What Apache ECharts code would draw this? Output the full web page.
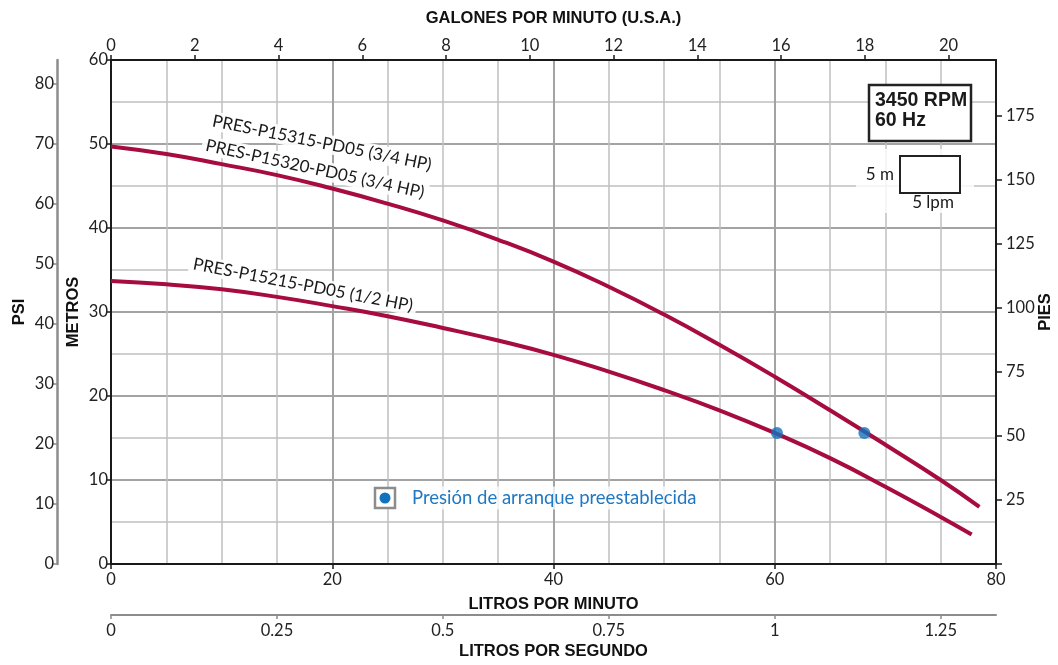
<!DOCTYPE html>
<html>
<head>
<meta charset="utf-8">
<script src="https://cdn.jsdelivr.net/npm/echarts@6/dist/echarts.min.js"></script>
<style>
html,body{margin:0;padding:0;background:#fff;}
#c{width:1058px;height:665px;}
</style>
</head>
<body>
<div id="c"></div>
<script>
// ---- data (flow in litros por minuto, head in metros) ----
const curve34HP = [[0,49.7],[5,48.8],[10,47.6],[15,46.3],[20,44.7],[25,42.9],[30,40.9],[35,38.6],[40,36.0],[45,33.0],[50,29.7],[55,26.1],[60,22.3],[65,18.3],[70,14.2],[75,10.0],[78.5,6.8]];
const curve12HP = [[0,33.7],[5,33.3],[10,32.7],[15,31.8],[20,30.7],[25,29.5],[30,28.1],[35,26.6],[40,24.9],[45,22.9],[50,20.7],[55,18.3],[60,15.6],[65,12.6],[70,9.2],[75,5.6],[77.8,3.5]];
const presetPoints = [[60.2,15.6],[68.1,15.6]];
const curveLabels = ['PRES-P15315-PD05 (3/4 HP)','PRES-P15320-PD05 (3/4 HP)','PRES-P15215-PD05 (1/2 HP)'];
const legendText = 'Presión de arranque preestablecida';
const infoText = ['3450 RPM','60 Hz'];
const LPM_MAX = 80, M_MAX = 60, PSI_MAX = 84;
const GPM_MAX = LPM_MAX / 3.785411784;
const LPS_MAX = LPM_MAX / 60;
const FT_MAX = M_MAX * 3.28084;

const chart = echarts.init(document.getElementById('c'));
const tickFont = {fontFamily:'Lato', fontSize:16.5, color:'#222'};
const nameFont = {fontFamily:"'Liberation Sans Narrow','Arial Narrow','Liberation Sans',sans-serif", fontWeight:'bold', fontSize:16.5, color:'#111'};
const black = {color:'#1a1a1a', width:2};
const gray = {color:'#8c8c8c', width:2.5};
const major = {color:'#a3a3a3', width:2};
const minor = {color:'#c0c0c0', width:1.5};
const lbl = (t,x,y,rot)=>({type:'text',x:x,y:y,rotation:rot,z:10,
  style:{text:t,font:'17px Lato',fill:'#1a1a1a',textAlign:'center',textVerticalAlign:'middle',align:'center',verticalAlign:'middle',backgroundColor:'rgba(255,255,255,0.9)',padding:[1,4]}});

const option = {
  animation:false,
  backgroundColor:'#fff',
  grid:{left:111,right:62,top:60,bottom:101,show:false,containLabel:false,outerBoundsMode:'none'},
  xAxis:[
    {type:'value',position:'bottom',min:0,max:LPM_MAX,interval:20,
     name:'LITROS POR MINUTO',nameLocation:'middle',nameGap:32,nameMoveOverlap:false,nameTextStyle:nameFont,
     axisLine:{show:true,onZero:false,lineStyle:black},axisTick:{show:true,length:5,lineStyle:{color:'#1a1a1a',width:1.5}},
     axisLabel:Object.assign({margin:7},tickFont),
     splitLine:{show:true,lineStyle:major},
     minorTick:{show:false,splitNumber:4},minorSplitLine:{show:true,lineStyle:minor}},
    {type:'value',position:'top',min:0,max:GPM_MAX,interval:2,
     name:'GALONES POR MINUTO (U.S.A.)',nameLocation:'middle',nameGap:33,nameMoveOverlap:false,nameTextStyle:nameFont,
     axisLine:{show:true,onZero:false,lineStyle:black},axisTick:{show:true,length:5,lineStyle:{color:'#1a1a1a',width:1.5}},
     axisLabel:Object.assign({margin:6,showMaxLabel:false},tickFont),splitLine:{show:false}},
    {type:'value',position:'bottom',offset:51,min:0,max:LPS_MAX,interval:0.25,
     name:'LITROS POR SEGUNDO',nameLocation:'middle',nameGap:28,nameMoveOverlap:false,nameTextStyle:nameFont,
     axisLine:{show:true,onZero:false,lineStyle:{color:'#8c8c8c',width:2}},axisTick:{show:true,length:4,lineStyle:{color:'#8c8c8c',width:1.5}},
     axisLabel:Object.assign({margin:7,showMaxLabel:false},tickFont),splitLine:{show:false}}
  ],
  yAxis:[
    {type:'value',position:'left',min:0,max:M_MAX,interval:10,
     name:'METROS',nameLocation:'middle',nameGap:29,nameMoveOverlap:false,nameTextStyle:nameFont,
     axisLine:{show:true,onZero:false,lineStyle:black},axisTick:{show:true,length:5,lineStyle:{color:'#1a1a1a',width:1.5}},
     axisLabel:Object.assign({margin:3},tickFont),
     splitLine:{show:true,lineStyle:major},
     minorTick:{show:false,splitNumber:2},minorSplitLine:{show:true,lineStyle:minor}},
    {type:'value',position:'left',offset:54,min:0,max:PSI_MAX,interval:10,
     name:'PSI',nameLocation:'middle',nameGap:29,nameMoveOverlap:false,nameTextStyle:nameFont,
     axisLine:{show:true,onZero:false,lineStyle:gray},axisTick:{show:true,length:5,lineStyle:{color:'#8c8c8c',width:1.5}},
     axisLabel:Object.assign({margin:3,showMaxLabel:false},tickFont),splitLine:{show:false}},
    {type:'value',position:'right',min:0,max:FT_MAX,interval:25,
     name:'PIES',nameLocation:'middle',nameGap:41,nameMoveOverlap:false,nameTextStyle:nameFont,
     axisLine:{show:true,onZero:false,lineStyle:black},axisTick:{show:true,length:6,lineStyle:{color:'#1a1a1a',width:1.5}},
     axisLabel:Object.assign({margin:10,showMaxLabel:false,formatter:v=>v===0?'':String(v)},tickFont),splitLine:{show:false}}
  ],
  series:[
    {type:'line',xAxisIndex:0,yAxisIndex:0,data:curve34HP,smooth:0.5,showSymbol:false,
     lineStyle:{color:'#a60c3e',width:4},z:3},
    {type:'line',xAxisIndex:0,yAxisIndex:0,data:curve12HP,smooth:0.5,showSymbol:false,
     lineStyle:{color:'#a60c3e',width:4},z:3},
    {type:'scatter',xAxisIndex:0,yAxisIndex:0,data:presetPoints,symbol:'circle',symbolSize:12,
     itemStyle:{color:'#1172bd'},z:5}
  ],
  graphic:[
    lbl(curveLabels[0],322,143,-0.2),
    lbl(curveLabels[1],315,169,-0.215),
    lbl(curveLabels[2],303,285,-0.19),
    // legend
    {type:'rect',shape:{x:375,y:488,width:20,height:20},z:10,style:{fill:'#fff',stroke:'#8c8c8c',lineWidth:2.5}},
    {type:'circle',shape:{cx:385,cy:498,r:5.5},z:11,style:{fill:'#1172bd'}},
    {type:'text',x:410,y:498,z:10,
     style:{text:legendText,font:'18.5px Lato',fill:'#1f78c1',textAlign:'left',textVerticalAlign:'middle',align:'left',verticalAlign:'middle',backgroundColor:'rgba(255,255,255,0.75)',padding:[2,2]}},
    // info box
    {type:'rect',shape:{x:869,y:85,width:102,height:56},z:10,style:{fill:'#fff',stroke:'#222',lineWidth:2.5}},
    {type:'text',x:875,y:101,z:11,style:{text:infoText[0],font:'bold 19.5px "Liberation Sans"',fill:'#1a1a1a',textAlign:'left',textVerticalAlign:'middle',align:'left',verticalAlign:'middle'}},
    {type:'text',x:875,y:121,z:11,style:{text:infoText[1],font:'bold 19.5px "Liberation Sans"',fill:'#1a1a1a',textAlign:'left',textVerticalAlign:'middle',align:'left',verticalAlign:'middle'}},
    // scale box
    {type:'rect',shape:{x:856,y:149,width:118,height:64},z:9,style:{fill:'rgba(255,255,255,0.8)'}},
    {type:'rect',shape:{x:900,y:156,width:60,height:37},z:10,style:{fill:'#fff',stroke:'#222',lineWidth:2}},
    {type:'text',x:894,y:175,z:11,style:{text:'5 m',font:'17px Lato',fill:'#1a1a1a',textAlign:'right',textVerticalAlign:'middle',align:'right',verticalAlign:'middle'}},
    {type:'text',x:933,y:203,z:11,style:{text:'5 lpm',font:'17px Lato',fill:'#1a1a1a',textAlign:'center',textVerticalAlign:'middle',align:'center',verticalAlign:'middle'}}
  ]
};
chart.setOption(option);
</script>
</body>
</html>
